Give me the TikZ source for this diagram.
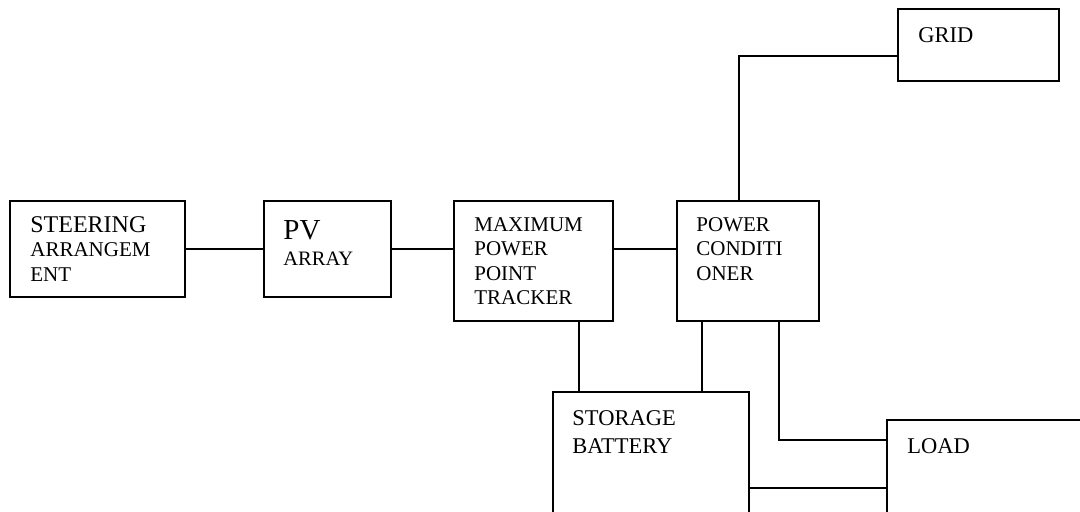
\documentclass[tikz,border=0pt]{standalone}
\usepackage{fontspec}
\setmainfont{Liberation Serif}
\usetikzlibrary{calc}

\begin{document}
\begin{tikzpicture}[x=0.5pt, y=-0.5pt,
  blk/.style={draw, line width=1pt, anchor=north west, inner sep=0pt},
  lbl/.style={anchor=north west, align=left, inner sep=0pt, font=\fontsize{10.5}{12.25}\selectfont},
  wire/.style={line width=0.8pt}]
\useasboundingbox (0,0) rectangle (1080,512);
\clip (0,0) rectangle (1080,512);

% blocks
\node[blk, minimum width=175*0.5pt, minimum height=96*0.5pt] (steer) at (9,200) {};
\node[blk, minimum width=127*0.5pt, minimum height=96*0.5pt] (pv) at (263,200) {};
\node[blk, minimum width=159*0.5pt, minimum height=120*0.5pt] (mppt) at (453,200) {};
\node[blk, minimum width=142*0.5pt, minimum height=120*0.5pt] (pc) at (676,200) {};
\node[blk, minimum width=161*0.5pt, minimum height=72*0.5pt] (grid) at (897,8) {};
\node[blk, minimum width=196*0.5pt, minimum height=200*0.5pt] (batt) at (552,391) {};
\node[blk, minimum width=250*0.5pt, minimum height=150*0.5pt] (load) at (886,419) {};

% texts
\node[lbl] (steertxt) at ($(steer.north west)+(21,16)$) {{\fontsize{12}{12}\selectfont STEERING}\\ARRANGEM\\ENT};
\node[lbl] (pvtxt) at ($(pv.north west)+(20,20)$) {{\fontsize{14.5}{13.5}\selectfont PV}\\[1pt]{\fontsize{10.25}{13.5}\selectfont ARRAY}};
\node[lbl] (mppttxt) at ($(mppt.north west)+(21,17)$) {MAXIMUM\\POWER\\POINT\\TRACKER};
\node[lbl] (pctxt) at ($(pc.north west)+(20,17)$) {POWER\\CONDITI\\ONER};
\node[lbl, font=\fontsize{11.25}{14}\selectfont] (gridtxt) at ($(grid.north west)+(21,19)$) {GRID};
\node[lbl, font=\fontsize{11.25}{14}\selectfont] (batttxt) at ($(batt.north west)+(20,19)$) {STORAGE\\BATTERY};
\node[lbl, font=\fontsize{11.25}{14}\selectfont] (loadtxt) at ($(load.north west)+(21,19)$) {LOAD};

% connections
\draw[wire] (steer) -- (pv);
\draw[wire] (pv) -- (pv -| mppt.west);
\draw[wire] (pv -| mppt.east) -- (pv -| pc.west);
\draw[wire] ($(pc.north west)+(63,0)$) |- ($(grid.north west)+(0,48)$);
\draw[wire] ($(mppt.south west)+(126,0)$) coordinate (m1) -- (m1 |- batt.north);
\draw[wire] ($(pc.south west)+(26,0)$) coordinate (p1) -- (p1 |- batt.north);
\draw[wire] ($(pc.south west)+(103,0)$) |- ($(load.north west)+(0,21)$);
\draw[wire] ($(batt.north east)+(0,97)$) coordinate (b1) -- (b1 -| load.west);
\end{tikzpicture}
\end{document}
